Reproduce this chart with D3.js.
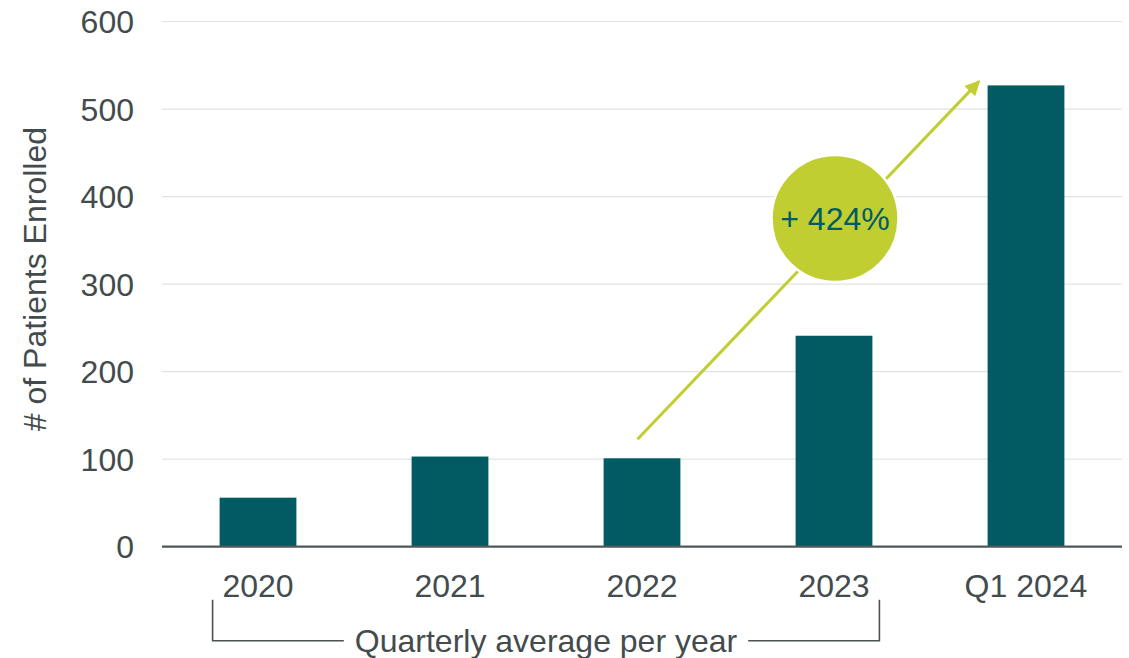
<!DOCTYPE html>
<html>
<head>
<meta charset="utf-8">
<script src="https://cdn.jsdelivr.net/npm/d3@7"></script>
<style>
  html, body { margin: 0; padding: 0; background: #ffffff; }
  svg { display: block; font-family: "Liberation Sans", Arial, sans-serif; }
</style>
</head>
<body>
<svg id="chart" width="1129" height="658"></svg>
<script>
const categories = ["2020", "2021", "2022", "2023", "Q1 2024"];
const enrolled = [56, 103, 101, 241, 527];
const yTicks = [0, 100, 200, 300, 400, 500, 600];
const yTitle = "# of Patients Enrolled";
const bracketLabel = "Quarterly average per year";
const bracketFrom = "2020";
const bracketTo = "2023";
const growthLabel = "+ 424%";

const W = 1129, H = 658;
const margin = { left: 162, right: 7, top: 21.5, bottom: 111.3 };
const svg = d3.select("#chart");

const x = d3.scaleBand()
  .domain(categories)
  .range([margin.left, W - margin.right])
  .paddingInner(0.6)
  .paddingOuter(0.3);

const y = d3.scaleLinear()
  .domain([0, 600])
  .range([H - margin.bottom, margin.top]);

const textColor = "#434b4d";
const barColor = "#025b63";
const lime = "#c0ce31";

// gridlines
svg.append("g")
  .selectAll("line")
  .data(yTicks.filter(d => d > 0))
  .join("line")
  .attr("x1", margin.left)
  .attr("x2", W - margin.right)
  .attr("y1", d => y(d))
  .attr("y2", d => y(d))
  .attr("stroke", "#dfe4e5")
  .attr("stroke-width", 1.2);

// y tick labels
svg.append("g")
  .selectAll("text")
  .data(yTicks)
  .join("text")
  .attr("x", 134)
  .attr("y", d => y(d))
  .attr("dy", "0.36em")
  .attr("text-anchor", "end")
  .attr("font-size", 32)
  .attr("fill", textColor)
  .text(d => d);

// y title
svg.append("text")
  .attr("transform", `translate(46, ${(y(0) + y(600)) / 2 - 5}) rotate(-90)`)
  .attr("text-anchor", "middle")
  .attr("font-size", 32)
  .attr("fill", textColor)
  .text(yTitle);

// bars
svg.append("g")
  .selectAll("rect")
  .data(categories.map((c, i) => ({ c, v: enrolled[i] })))
  .join("rect")
  .attr("x", d => x(d.c))
  .attr("width", x.bandwidth())
  .attr("y", d => y(d.v))
  .attr("height", d => y(0) - y(d.v))
  .attr("fill", barColor);

// baseline axis
svg.append("line")
  .attr("x1", margin.left)
  .attr("x2", W - margin.right)
  .attr("y1", y(0))
  .attr("y2", y(0))
  .attr("stroke", "#4f5758")
  .attr("stroke-width", 2.2);

// x labels
svg.append("g")
  .selectAll("text")
  .data(categories)
  .join("text")
  .attr("x", d => x(d) + x.bandwidth() / 2)
  .attr("y", y(0) + 50)
  .attr("text-anchor", "middle")
  .attr("font-size", 32)
  .attr("fill", textColor)
  .text(d => d);

// bracket
const bx1 = x(bracketFrom) - 7;
const bx2 = x(bracketTo) + x.bandwidth() + 7;
const bTop = y(0) + 53;
const bBot = y(0) + 94;
const bText = svg.append("text")
  .attr("x", (bx1 + bx2) / 2)
  .attr("y", bBot + 11.5)
  .attr("text-anchor", "middle")
  .attr("font-size", 32)
  .attr("fill", textColor)
  .text(bracketLabel);
const tw = bText.node().getComputedTextLength();
const gap = 11;
const mid = (bx1 + bx2) / 2;
const bPath = d3.path();
bPath.moveTo(bx1, bTop);
bPath.lineTo(bx1, bBot);
bPath.lineTo(mid - tw / 2 - gap, bBot);
bPath.moveTo(mid + tw / 2 + gap, bBot);
bPath.lineTo(bx2, bBot);
bPath.lineTo(bx2, bTop);
svg.append("path")
  .attr("d", bPath.toString())
  .attr("fill", "none")
  .attr("stroke", "#4a5253")
  .attr("stroke-width", 1.6);

// growth arrow
const defs = svg.append("defs");
defs.append("marker")
  .attr("id", "arrowhead")
  .attr("viewBox", "0 0 10 10")
  .attr("refX", 9)
  .attr("refY", 5)
  .attr("markerWidth", 5.5)
  .attr("markerHeight", 5)
  .attr("orient", "auto")
  .attr("markerUnits", "strokeWidth")
  .append("path")
  .attr("d", "M0,0 L10,5 L0,10 Z")
  .attr("fill", lime);

const ax1 = x("2022") + x.bandwidth() / 2 - 4.5;
const ay1 = y(enrolled[2]) - 19;
const ax2 = x("Q1 2024") - 8.5;
const ay2 = y(enrolled[4]) - 4;
svg.append("line")
  .attr("x1", ax1)
  .attr("y1", ay1)
  .attr("x2", ax2)
  .attr("y2", ay2)
  .attr("stroke", lime)
  .attr("stroke-width", 3)
  .attr("marker-end", "url(#arrowhead)");

// growth bubble
const cx = x("2023") + x.bandwidth() / 2 + 1;
const cy = y(375);
svg.append("circle")
  .attr("cx", cx)
  .attr("cy", cy)
  .attr("r", 63.5)
  .attr("fill", lime)
  .attr("stroke", "#ffffff")
  .attr("stroke-width", 2.5);
svg.append("text")
  .attr("x", cx)
  .attr("y", cy)
  .attr("dy", "0.36em")
  .attr("text-anchor", "middle")
  .attr("font-size", 32)
  .attr("fill", barColor)
  .text(growthLabel);
</script>
</body>
</html>
